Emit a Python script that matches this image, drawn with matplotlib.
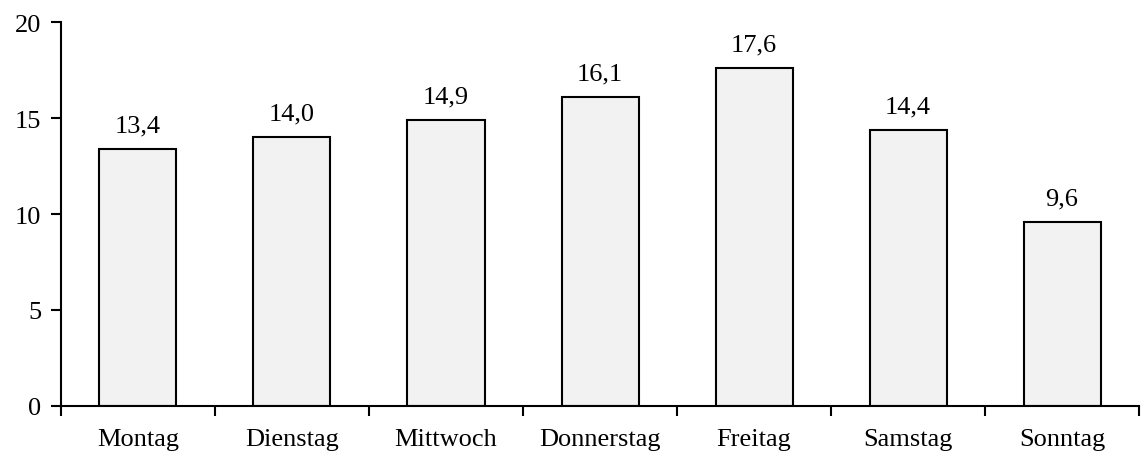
import matplotlib
matplotlib.use('Agg')
import matplotlib.pyplot as plt
import numpy as np

days = ['Montag', 'Dienstag', 'Mittwoch', 'Donnerstag', 'Freitag', 'Samstag', 'Sonntag']
values = [13.4, 14.0, 14.9, 16.1, 17.6, 14.4, 9.6]
y_ticks = [0, 5, 10, 15, 20]

plt.rcParams['font.family'] = ['Liberation Serif', 'DejaVu Serif']

fig = plt.figure(figsize=(11.42, 4.52), dpi=100)
ax = fig.add_axes([0.0534, 0.0996, 0.944, 0.8494])

x = np.arange(len(days))
ax.bar(x, values, width=0.5, color='#f2f2f2', edgecolor='black', linewidth=1.5)

# value labels above bars, German decimal comma
for xi, v in zip(x, values):
  ax.annotate('{:.1f}'.format(v).replace('.', ','), (xi, v), xytext=(0, 9),
              textcoords='offset points', ha='center', va='bottom', fontsize=19)

ax.set_xlim(-0.5, len(days) - 0.5)
ax.set_ylim(0, 20)
ax.set_yticks(y_ticks)
ax.set_xticks(x)
ax.set_xticklabels(days)
ax.set_xticks(np.arange(len(days) + 1) - 0.5, minor=True)
ax.tick_params(axis='x', which='major', length=0, pad=16, labelsize=19)
ax.tick_params(axis='x', which='minor', length=7, width=1.5, direction='out')
ax.tick_params(axis='y', length=7, width=1.5, pad=7, labelsize=19)

for s in ['top', 'right']:
  ax.spines[s].set_visible(False)
for s in ['left', 'bottom']:
  ax.spines[s].set_linewidth(1.5)

fig.savefig('out.png', dpi=100)
